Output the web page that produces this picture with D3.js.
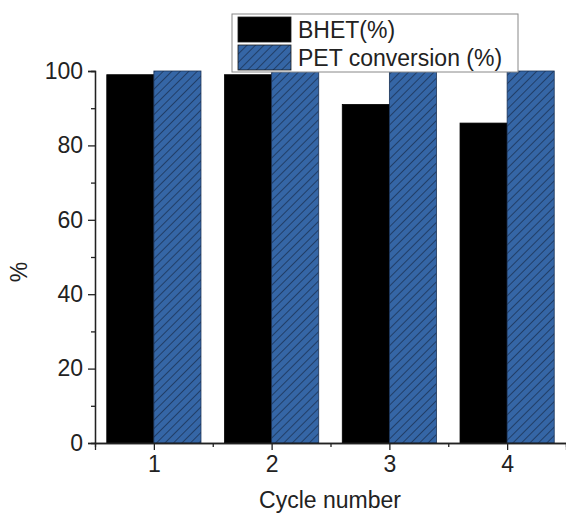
<!DOCTYPE html>
<html>
<head>
<meta charset="utf-8">
<script src="https://cdn.jsdelivr.net/npm/d3@7"></script>
<style>
  body { margin: 0; background: #fff; }
  svg { display: block; font-family: Arial, "Liberation Sans", sans-serif; }
</style>
</head>
<body>
<div id="chart"></div>
<script>
// values
const cycles = [1, 2, 3, 4]
const bhet = [99, 99, 91, 86]
const petConversion = [100, 100, 100, 100]
const seriesNames = ['BHET(%)', 'PET conversion (%)']
const yTicks = [0, 20, 40, 60, 80, 100]
const yMinorTicks = [10, 30, 50, 70, 90]
const xMinorTicks = [1.5, 2.5, 3.5]

const width = 566
const height = 515
const margin = { top: 71, right: 0, bottom: 72, left: 95 }
const innerWidth = width - margin.left - margin.right
const innerHeight = height - margin.top - margin.bottom
const fontSize = 23

const svg = d3.select('#chart')
  .append('svg')
  .attr('width', width)
  .attr('height', height)

const defs = svg.append('defs')
const hatch = defs.append('pattern')
  .attr('id', 'hatch')
  .attr('patternUnits', 'userSpaceOnUse')
  .attr('width', 6)
  .attr('height', 6)
  .attr('patternTransform', 'rotate(45)')
hatch.append('rect')
  .attr('width', 6).attr('height', 6)
  .attr('fill', '#3566a6')
hatch.append('line')
  .attr('x1', 0).attr('y1', 0)
  .attr('x2', 0).attr('y2', 6)
  .attr('stroke', '#1b3357')
  .attr('stroke-width', 1.6)

const g = svg.append('g')
  .attr('transform', `translate(${margin.left},${margin.top})`)

const x = d3.scaleLinear()
  .domain([0.5, 4.5])
  .range([0, innerWidth])

const y = d3.scaleLinear()
  .domain([0, 100])
  .range([innerHeight, 0])

const step = x(2) - x(1)
const barW = step * 0.4

// bars
const series = [
  { name: seriesNames[0], values: bhet, fill: '#000' },
  { name: seriesNames[1], values: petConversion, fill: 'url(#hatch)' }
]

series.forEach((s, si) => {
  g.selectAll(`.bar-${si}`)
    .data(s.values)
    .join('rect')
    .attr('class', `bar-${si}`)
    .attr('x', (_, i) => x(cycles[i]) - barW + si * barW)
    .attr('y', d => y(d))
    .attr('width', barW)
    .attr('height', d => y(0) - y(d))
    .attr('fill', s.fill)
    .attr('stroke', si === 1 ? '#1b3357' : '#000')
    .attr('stroke-width', 0.8)
})

// axes
const yAxis = d3.axisLeft(y)
  .tickValues(yTicks)
  .tickSize(7)
  .tickPadding(5)
const yMinor = d3.axisLeft(y)
  .tickValues(yMinorTicks)
  .tickSize(4)
  .tickFormat('')

const xAxis = d3.axisBottom(x)
  .tickValues(cycles)
  .tickSize(7)
  .tickPadding(6)
  .tickFormat(d3.format('d'))
const xMinor = d3.axisBottom(x)
  .tickValues(xMinorTicks)
  .tickSize(4)
  .tickFormat('')

function styleAxis(sel) {
  sel.select('.domain').attr('stroke', '#222').attr('stroke-width', 1.3)
  sel.selectAll('.tick line').attr('stroke', '#222').attr('stroke-width', 1.3)
  sel.selectAll('.tick text').attr('font-size', fontSize).attr('fill', '#222')
}

// minor ticks carry no labels, drop their empty text nodes
g.append('g').call(yMinor).call(styleAxis).selectAll('.tick text').remove()
g.append('g').call(yAxis).call(styleAxis)
g.append('g').attr('transform', `translate(0,${innerHeight})`)
  .call(xMinor).call(styleAxis).selectAll('.tick text').remove()
g.append('g').attr('transform', `translate(0,${innerHeight})`).call(xAxis).call(styleAxis)

// axis titles
svg.append('text')
  .attr('transform', `translate(27,${margin.top + innerHeight / 2 + 15}) rotate(-90)`)
  .attr('text-anchor', 'middle')
  .attr('font-size', fontSize)
  .attr('fill', '#222')
  .text('%')

svg.append('text')
  .attr('x', 330)
  .attr('y', 508)
  .attr('text-anchor', 'middle')
  .attr('font-size', fontSize)
  .attr('fill', '#222')
  .text('Cycle number')

// legend
const legend = svg.append('g').attr('transform', 'translate(232,14)')
legend.append('rect')
  .attr('width', 286)
  .attr('height', 58)
  .attr('fill', '#fff')
  .attr('stroke', '#888')
  .attr('stroke-width', 1)

const items = legend.selectAll('.legend-item')
  .data(series)
  .join('g')
  .attr('class', 'legend-item')
  .attr('transform', (_, i) => `translate(6,${3 + i * 28})`)

items.append('rect')
  .attr('width', 53)
  .attr('height', 25)
  .attr('fill', d => d.fill)
  .attr('stroke', '#1b1b1b')
  .attr('stroke-width', 0.8)

items.append('text')
  .attr('x', 60)
  .attr('y', 21)
  .attr('font-size', fontSize)
  .attr('fill', '#222')
  .text(d => d.name)
</script>
</body>
</html>
